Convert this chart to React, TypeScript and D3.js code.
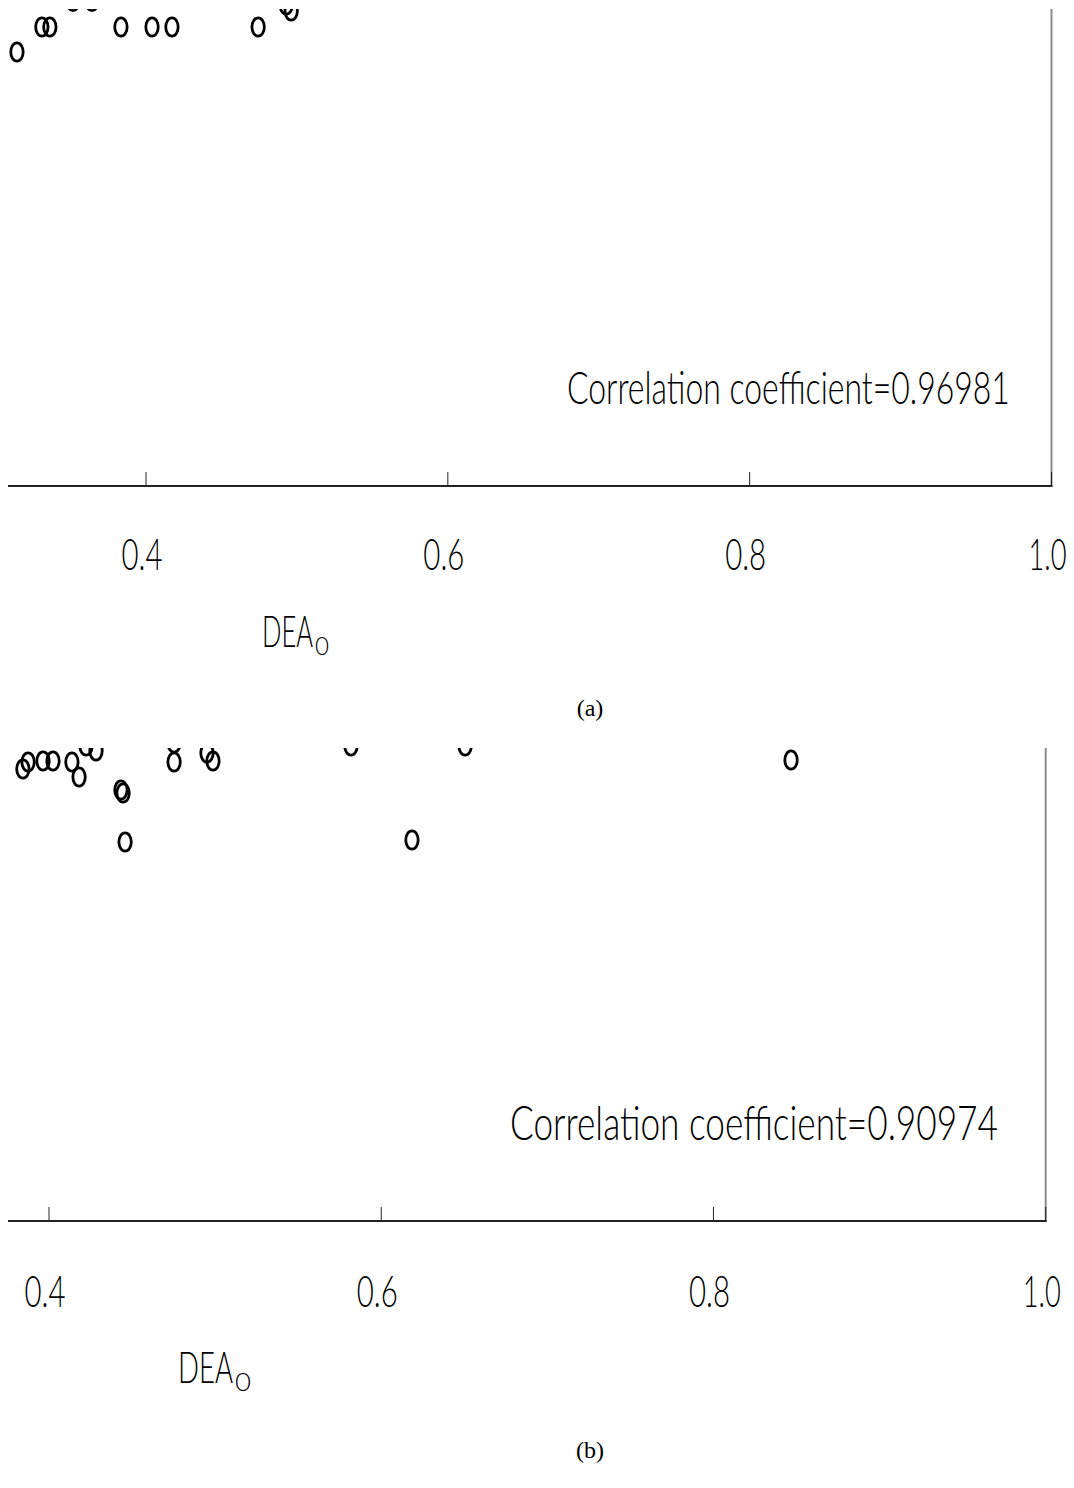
import React, { useLayoutEffect, useRef, useState } from 'react';
import * as d3 from 'd3';

// two cropped scatter panels: DEA_0 against the other score
const xTicks = [0.4, 0.6, 0.8, 1.0];
const xTickLabels = ['0.4', '0.6', '0.8', '1.0'];

// panel (a)
const dea0A = [0.3145, 0.331, 0.3363, 0.3516, 0.3642, 0.3834, 0.404, 0.4172, 0.4743, 0.4929, 0.4962];
const scoreA = [0.868, 0.918, 0.918, 0.969, 0.969, 0.918, 0.918, 0.918, 0.918, 0.962, 0.950];
const corrTextA = 'Correlation coefficient=0.96981';

// panel (b)
const dea0B = [0.3843, 0.3874, 0.3964, 0.4024, 0.4138, 0.4181, 0.4223, 0.4283, 0.4433, 0.4446, 0.4458,
  0.4753, 0.4753, 0.4951, 0.4987, 0.5818, 0.6185, 0.6505, 0.8467];
const scoreB = [0.904, 0.918, 0.920, 0.920, 0.918, 0.888, 0.950, 0.940, 0.862, 0.856, 0.758,
  0.956, 0.918, 0.936, 0.920, 0.950, 0.762, 0.950, 0.922];
const corrTextB = 'Correlation coefficient=0.90974';

const FONT = "Lato, 'DejaVu Sans', sans-serif";

// text squeezed horizontally to a given width (the original font is a narrow one)
function FitText({ x, y, width, size, anchor = 'start', children }) {
  const ref = useRef(null);
  const [sx, setSx] = useState(0.66);
  useLayoutEffect(() => {
    if (!ref.current) return;
    const w = ref.current.getBBox().width;
    if (w > 0) setSx(width / w);
  }, [width, children]);
  return (
    <text ref={ref} transform={`translate(${x},${y}) scale(${sx},1)`} textAnchor={anchor}
      fontFamily={FONT} fontWeight={300} fontSize={size} fill="#000">{children}</text>
  );
}

function Panel(props) {
  const { id, xs, ys, corrText, top, axisY, x04, x10, corr, tickLabelY, dea, caption } = props;

  const x = d3.scaleLinear().domain([0.4, 1.0]).range([x04, x10]);
  const y = d3.scaleLinear().domain([0, 1]).range([axisY, axisY - 500]);
  const pts = d3.zip(xs, ys);

  return (
    <g>
      <defs>
        <clipPath id={id}>
          <rect x={0} y={top} width={x10} height={axisY - top} />
        </clipPath>
      </defs>
      <g clipPath={`url(#${id})`}>
        {pts.map((p, i) => (
          <ellipse key={i} cx={x(p[0])} cy={y(p[1])} rx={6.2} ry={9.2}
            fill="none" stroke="#000" strokeWidth={2.8} />
        ))}
      </g>
      {/* frame: bottom axis and right edge */}
      <line x1={x10} x2={x10} y1={top} y2={axisY} stroke="#8a8a8a" strokeWidth={2} />
      <line x1={8} x2={x10 + 1} y1={axisY} y2={axisY} stroke="#222" strokeWidth={1.8} />
      {xTicks.map((t, i) => (
        <g key={t}>
          <line x1={x(t)} x2={x(t)} y1={axisY} y2={axisY - 14} stroke="#222" strokeWidth={1} />
          <FitText x={x(t) - 4} y={tickLabelY} width={t === 1 ? 38 : 41} size={44} anchor="middle">
            {xTickLabels[i]}
          </FitText>
        </g>
      ))}
      <FitText x={corr.x} y={corr.y} width={corr.w} size={corr.size}>{corrText}</FitText>
      <FitText x={dea.x} y={dea.y} width={dea.w} size={44}>DEA</FitText>
      <FitText x={dea.x + dea.w + 2} y={dea.y + 8} width={dea.subW} size={26}>0</FitText>
      <text x={590} y={caption} textAnchor="middle" fontFamily="'Liberation Serif', 'Times New Roman', serif"
        fontSize={24} fill="#000">{props.tag}</text>
    </g>
  );
}

export default function App() {
  return (
    <svg width={1074} height={1488} style={{ position: 'absolute', left: 0, top: 0, background: '#fff' }}>
      <Panel id="clipA" tag="(a)" xs={dea0A} ys={scoreA} corrText={corrTextA}
        top={9} axisY={486} x04={146} x10={1051.5}
        corr={{ x: 567, y: 404, w: 443, size: 46 }} tickLabelY={570}
        dea={{ x: 262, y: 647, w: 51, subW: 14 }} caption={716} />
      <Panel id="clipB" tag="(b)" xs={dea0B} ys={scoreB} corrText={corrTextB}
        top={748} axisY={1221} x04={49} x10={1045.7}
        corr={{ x: 510, y: 1140, w: 488, size: 48 }} tickLabelY={1307}
        dea={{ x: 178, y: 1383, w: 55, subW: 16 }} caption={1458} />
    </svg>
  );
}
